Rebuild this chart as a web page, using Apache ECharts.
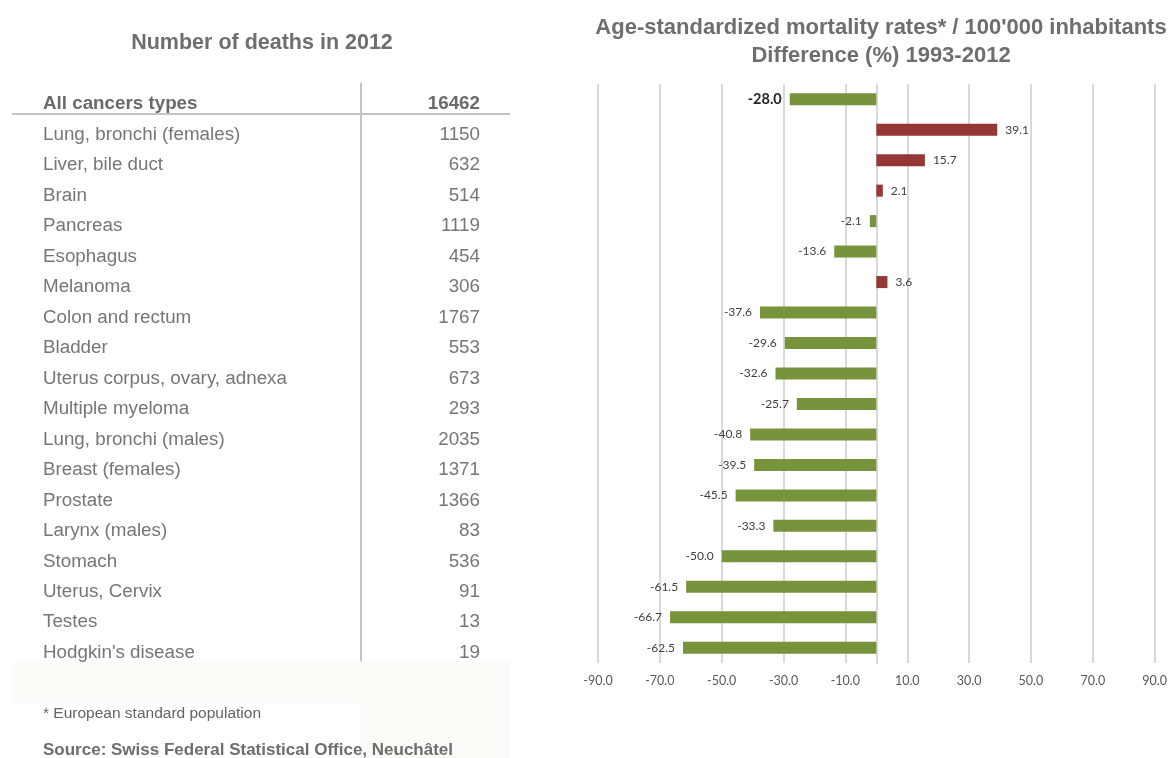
<!DOCTYPE html>
<html>
<head>
<meta charset="utf-8">
<script src="https://cdn.jsdelivr.net/npm/echarts@6/dist/echarts.min.js"></script>
<style>
  html, body { margin: 0; padding: 0; background: #ffffff; }
  #chart { width: 1170px; height: 758px; }
</style>
</head>
<body>
<div id="chart"></div>
<script>
// Cancer sites, top row is the total
const cancerTypes = [
  'All cancers types',
  'Lung, bronchi (females)',
  'Liver, bile duct',
  'Brain',
  'Pancreas',
  'Esophagus',
  'Melanoma',
  'Colon and rectum',
  'Bladder',
  'Uterus corpus, ovary, adnexa',
  'Multiple myeloma',
  'Lung, bronchi (males)',
  'Breast (females)',
  'Prostate',
  'Larynx (males)',
  'Stomach',
  'Uterus, Cervix',
  'Testes',
  "Hodgkin's disease"
];

// Number of deaths in 2012
const deaths2012 = [16462, 1150, 632, 514, 1119, 454, 306, 1767, 553, 673, 293, 2035, 1371, 1366, 83, 536, 91, 13, 19];

// Change of age-standardized mortality rate 1993-2012, in %
const rateChange = [-28.0, 39.1, 15.7, 2.1, -2.1, -13.6, 3.6, -37.6, -29.6, -32.6, -25.7, -40.8, -39.5, -45.5, -33.3, -50.0, -61.5, -66.7, -62.5];

// Value axis range and step
const axisMin = -90;
const axisMax = 90;
const axisStep = 20;

const leftTitle = 'Number of deaths in 2012';
const rightTitle = "Age-standardized mortality rates* / 100'000 inhabitants\nDifference (%) 1993-2012";
const footnote = '* European standard population';
const source = 'Source: Swiss Federal Statistical Office, Neuchâtel';

const GREEN = '#77933c';
const RED = '#953735';
const GRID_GRAY = '#d9d9d9';
const TEXT_GRAY = '#767676';
const SANS = '"Liberation Sans", Arial, sans-serif';
const LABEL_FONT = 'Lato, "Open Sans", sans-serif';

const chart = echarts.init(document.getElementById('chart'));

const plotTop = 84;
const plotHeight = 579;

const option = {
  backgroundColor: '#ffffff',
  animation: false,
  title: [
    {
      text: leftTitle,
      left: 257, top: 27, textAlign: 'center',
      textStyle: { fontFamily: SANS, fontSize: 21.5, fontWeight: 'bold', color: '#6e6e6e' }
    },
    {
      text: rightTitle,
      left: 876, top: 9, textAlign: 'center',
      textStyle: { fontFamily: SANS, fontSize: 22, fontWeight: 'bold', color: '#6e6e6e', lineHeight: 28 }
    }
  ],
  grid: [
    { left: 598, right: 14, top: plotTop, height: plotHeight, containLabel: false },
    { left: 43, width: 437, top: plotTop + 5, height: plotHeight, containLabel: false }
  ],
  xAxis: [
    {
      gridIndex: 0,
      type: 'value',
      min: axisMin, max: axisMax, interval: axisStep,
      axisLine: { show: false },
      axisTick: { show: false },
      splitLine: { show: true, lineStyle: { color: GRID_GRAY, width: 2 } },
      axisLabel: {
        margin: 11,
        fontFamily: LABEL_FONT, fontSize: 12.5, color: '#595959',
        formatter: v => v.toFixed(1)
      }
    },
    { gridIndex: 1, type: 'value', show: false, min: 0, max: 1 }
  ],
  yAxis: [
    {
      gridIndex: 0,
      type: 'category',
      inverse: true,
      data: cancerTypes,
      axisLine: { show: true, onZero: true, lineStyle: { color: GRID_GRAY, width: 2 } },
      axisTick: { show: false },
      axisLabel: { show: false },
      splitLine: { show: false }
    },
    {
      gridIndex: 1,
      type: 'category',
      inverse: true,
      position: 'left',
      data: cancerTypes,
      axisLine: { show: false },
      axisTick: { show: false },
      axisLabel: {
        inside: true, margin: 0,
        fontFamily: SANS, fontSize: 18.8, color: TEXT_GRAY,
        formatter: (v, i) => i === 0 ? '{h|' + v + '}' : v,
        rich: { h: { fontFamily: SANS, fontSize: 18.8, fontWeight: 'bold', color: '#6a6a6a' } }
      }
    },
    {
      gridIndex: 1,
      type: 'category',
      inverse: true,
      position: 'right',
      data: deaths2012.map(String),
      axisLine: { show: false },
      axisTick: { show: false },
      axisLabel: {
        inside: true, margin: 0,
        fontFamily: SANS, fontSize: 18.8, color: TEXT_GRAY,
        formatter: (v, i) => i === 0 ? '{h|' + v + '}' : v,
        rich: { h: { fontFamily: SANS, fontSize: 18.8, fontWeight: 'bold', color: '#6a6a6a' } }
      }
    }
  ],
  series: [
    {
      type: 'bar',
      xAxisIndex: 0, yAxisIndex: 0,
      barWidth: 12,
      data: rateChange.map((v, i) => ({
        value: v,
        itemStyle: { color: v < 0 ? GREEN : RED },
        label: Object.assign(
          { position: v < 0 ? 'left' : 'right' },
          i === 0 ? { fontSize: 14.5, fontWeight: 'bold', color: '#262626' } : {}
        )
      })),
      label: {
        show: true,
        distance: 8,
        fontFamily: LABEL_FONT, fontSize: 12, color: '#404040',
        formatter: p => p.value.toFixed(1)
      }
    }
  ]
};

chart.setOption(option);

// Table rules, faint note panel and notes, placed from the category scale
function drawTableDecor() {
  const y0 = chart.convertToPixel({ gridIndex: 0 }, [0, 0])[1];
  const y1 = chart.convertToPixel({ gridIndex: 0 }, [0, 1])[1];
  const yLast = chart.convertToPixel({ gridIndex: 0 }, [0, cancerTypes.length - 1])[1];
  const rowH = y1 - y0;
  const ruleY = Math.round((y0 + y1) / 2);
  const tableEnd = yLast + rowH * 0.45;
  chart.setOption({
    graphic: [
      {
        type: 'rect', silent: true, z: -10,
        shape: { x: 12, y: tableEnd, width: 498, height: 703 - tableEnd },
        style: { fill: '#fbfbf8' }
      },
      {
        type: 'rect', silent: true, z: -10,
        shape: { x: 360, y: 703, width: 150, height: 55 },
        style: { fill: '#fbfbf8' }
      },
      {
        type: 'line', silent: true,
        shape: { x1: 12, y1: ruleY, x2: 510, y2: ruleY },
        style: { stroke: '#c4c4c4', lineWidth: 2 }
      },
      {
        type: 'line', silent: true,
        shape: { x1: 361, y1: y0 - rowH * 0.55, x2: 361, y2: tableEnd },
        style: { stroke: '#c4c4c4', lineWidth: 2 }
      },
      {
        type: 'text', silent: true, left: 43, top: 706,
        style: { text: footnote, font: '15.5px ' + SANS, fill: '#646464' }
      },
      {
        type: 'text', silent: true, left: 43, top: 742,
        style: { text: source, font: 'bold 17px ' + SANS, fill: '#6e6e6e' }
      }
    ]
  });
}
drawTableDecor();
</script>
</body>
</html>
